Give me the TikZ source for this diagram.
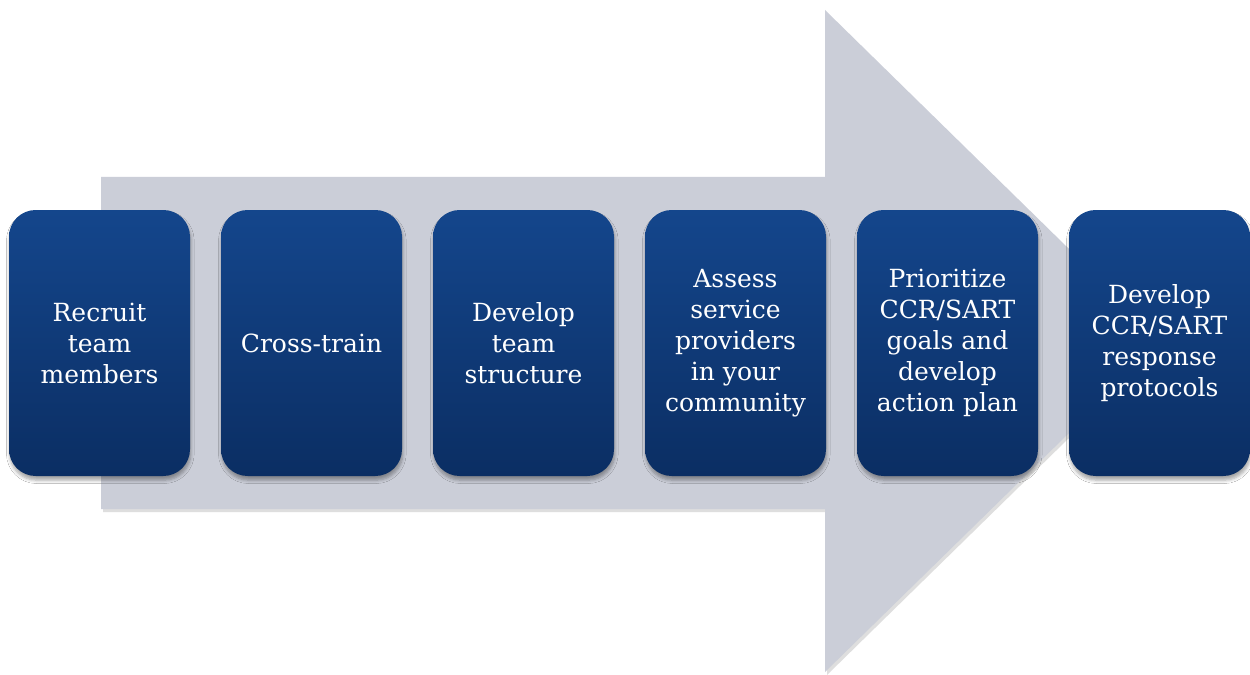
\documentclass[tikz,border=0pt]{standalone}
\usepackage{fontspec}
\setmainfont{DejaVu Serif}
\usetikzlibrary{shadows,shadows.blur}
\definecolor{arrowgrey}{RGB}{203,206,216}
\definecolor{boxtop}{RGB}{20,70,140}
\definecolor{boxbot}{RGB}{11,46,99}
\tikzset{
  stepbox/.style={rectangle, rounded corners=16pt, minimum width=108.6pt, minimum height=159.6pt,
    top color=boxtop, bottom color=boxbot, draw=none, text=white, align=center,
    font=\fontsize{15}{18.6}\selectfont, inner sep=0pt,
    blur shadow={shadow xshift=0.5pt, shadow yshift=-2.5pt, shadow blur radius=2pt, shadow blur steps=5, shadow opacity=35}},
}
\begin{document}
\begin{tikzpicture}[x=0.6pt,y=-0.6pt]
\useasboundingbox (0,0) rectangle (1250,675);
\fill[white] (0,0) rectangle (1250,675);
% big arrow
\fill[black!25, opacity=0.5] (103,180) -- (827,180) -- (827,13) -- (1165,344) -- (827,675) -- (827,512) -- (103,512) -- cycle;
\fill[arrowgrey] (101,177) -- (825,177) -- (825,10) -- (1163,341) -- (825,672) -- (825,509) -- (101,509) -- cycle;
% boxes
\node[stepbox] (b1) at (99.5,343) {Recruit\\team\\members};
\node[stepbox] (b2) at (311.5,343) {Cross-train};
\node[stepbox] (b3) at (523.5,343) {Develop\\team\\structure};
\node[stepbox] (b4) at (735.5,343) {Assess\\service\\providers\\in your\\community};
\node[stepbox] (b5) at (947.5,343) {Prioritize\\CCR/SART\\goals and\\develop\\action plan};
\node[stepbox] (b6) at (1159.5,343) {Develop\\CCR/SART\\response\\protocols};
\end{tikzpicture}
\end{document}
